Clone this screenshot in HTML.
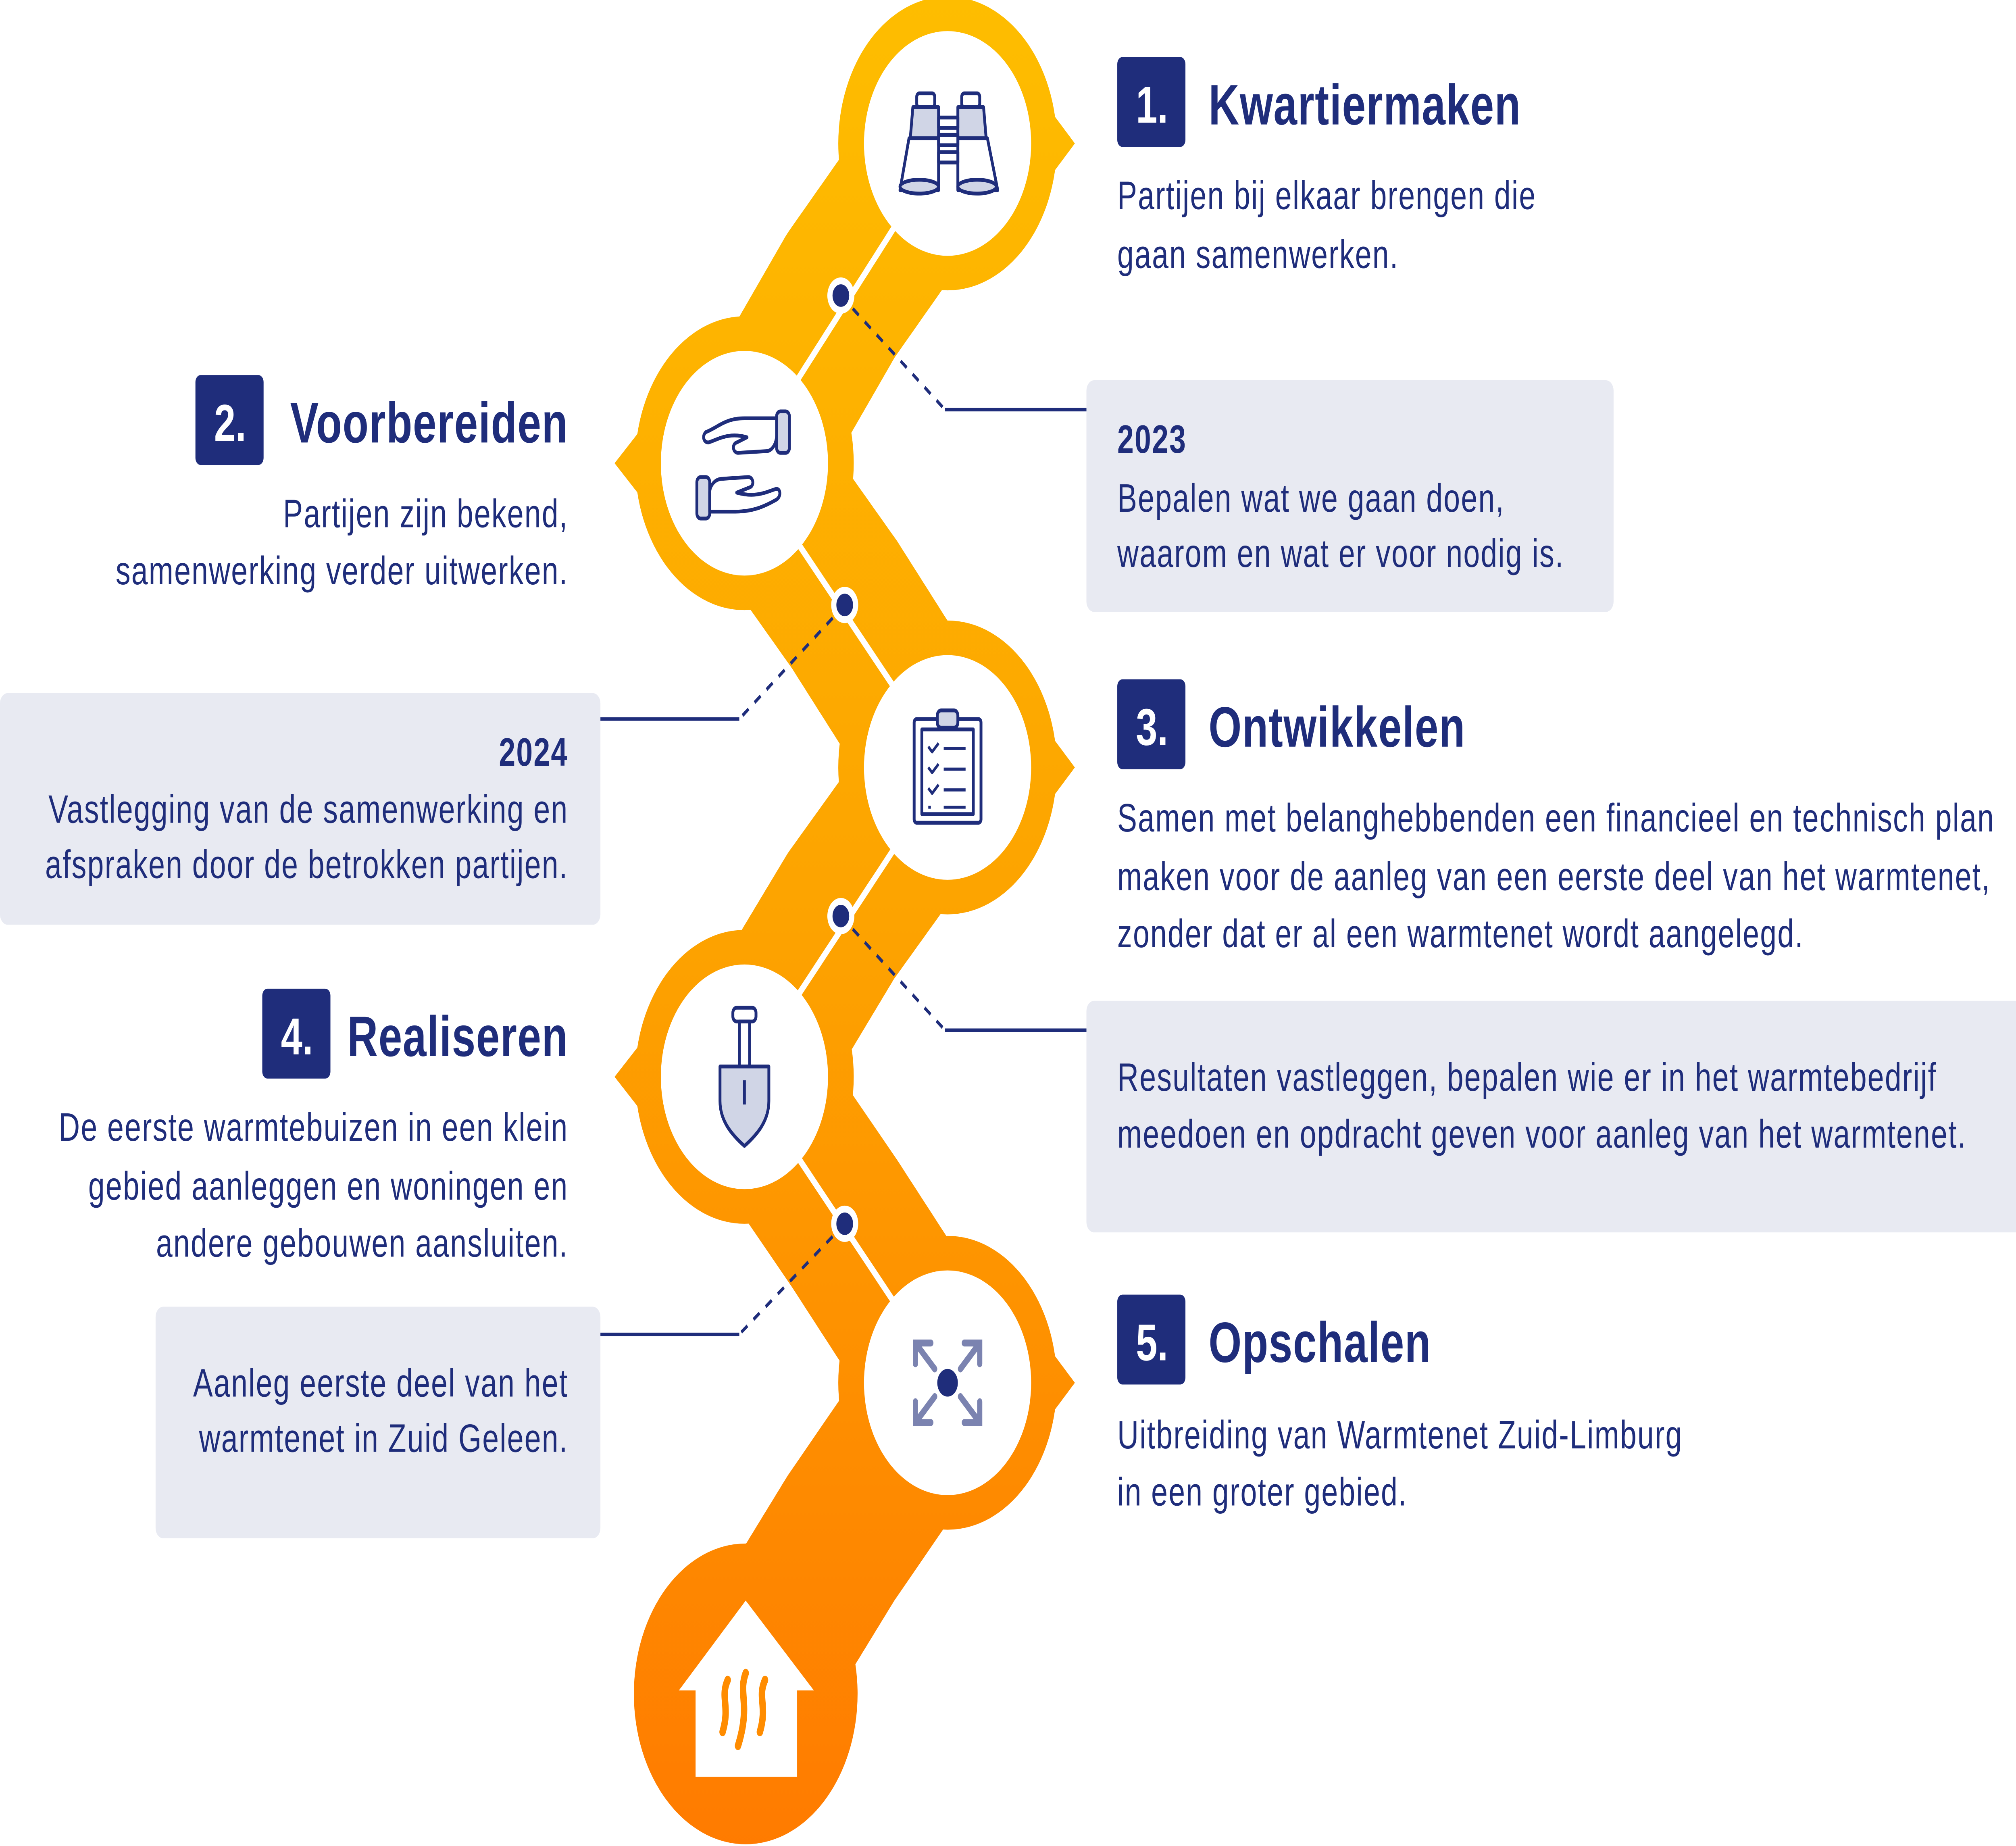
<!DOCTYPE html>
<html><head><meta charset="utf-8"><style>html,body{margin:0;padding:0;background:#fff;width:100%;height:100%;overflow:hidden}svg{display:block;width:100vw;height:100vh}</style></head>
<body>
<svg xmlns="http://www.w3.org/2000/svg" viewBox="0 0 1568 1068" preserveAspectRatio="none" font-family="'Liberation Sans', sans-serif">
<defs>
<linearGradient id="g" gradientUnits="userSpaceOnUse" x1="0" y1="0" x2="0" y2="1068">
<stop offset="0" stop-color="#FEBD00"/><stop offset="0.5" stop-color="#FDA300"/><stop offset="1" stop-color="#FF7B00"/></linearGradient>
</defs>
<rect width="1568" height="1068" fill="#fff"/>
<g fill="#E8EAF2">
<rect x="845" y="220" width="410" height="134" rx="6"/>
<rect x="0" y="401" width="467" height="134" rx="6"/>
<rect x="845" y="579" width="730" height="134" rx="6"/>
<rect x="121" y="756" width="346" height="134" rx="6"/>
</g>
<g fill="url(#g)" stroke="url(#g)">
<polyline points="737,83 654,171 579,268 657,350 737,444 654,530 579,623 657,708 737,800 654,890 580,980" fill="none" stroke-width="110" stroke-linejoin="round"/>
<circle cx="737" cy="83" r="85" stroke="none"/>
<circle cx="579" cy="268" r="85" stroke="none"/>
<circle cx="737" cy="444" r="85" stroke="none"/>
<circle cx="579" cy="623" r="85" stroke="none"/>
<circle cx="737" cy="800" r="85" stroke="none"/>
<circle cx="580" cy="980" r="87" stroke="none"/>
<polygon points="815,62 836,83 815,104" stroke="none"/>
<polygon points="815,423 836,444 815,465" stroke="none"/>
<polygon points="815,779 836,800 815,821" stroke="none"/>
<polygon points="500,247 478,268 500,289" stroke="none"/>
<polygon points="500,602 478,623 500,644" stroke="none"/>
</g>
<g stroke="#fff" stroke-width="4">
<line x1="737" y1="83" x2="579" y2="268"/>
<line x1="579" y1="268" x2="737" y2="444"/>
<line x1="737" y1="444" x2="579" y2="623"/>
<line x1="579" y1="623" x2="737" y2="800"/>
</g>
<g fill="#fff">
<circle cx="737" cy="83" r="65"/><circle cx="579" cy="268" r="65"/><circle cx="737" cy="444" r="65"/><circle cx="579" cy="623" r="65"/><circle cx="737" cy="800" r="65"/>
</g>
<g stroke="#1F2D7B" stroke-width="2" fill="none">
<path d="M654,171 L735,237" stroke-dasharray="6,6"/><path d="M735,237 H845"/>
<path d="M657,350 L575,416" stroke-dasharray="6,6"/><path d="M575,416 H467"/>
<path d="M654,530 L735,596" stroke-dasharray="6,6"/><path d="M735,596 H845"/>
<path d="M657,708 L575,772" stroke-dasharray="6,6"/><path d="M575,772 H467"/>
</g>
<g fill="#1F2D7B" stroke="#fff" stroke-width="4">
<circle cx="654" cy="171" r="8.5"/><circle cx="657" cy="350" r="8.5"/><circle cx="654" cy="530" r="8.5"/><circle cx="657" cy="708" r="8.5"/>
</g>
<g stroke="#1F2D7B" stroke-width="2.2" fill="#fff" stroke-linejoin="round">
<rect x="713" y="54" width="14" height="8" rx="2"/><rect x="748" y="54" width="14" height="8" rx="2"/>
<path d="M710,62 h20 v18 h-22 z" fill="#D0D5E6"/><path d="M745,62 h20 l2,18 h-22 z" fill="#D0D5E6"/>
<path d="M707,80 h23 v30 h-30 z"/><path d="M745,80 h23 l8,30 h-31 z"/>
<rect x="730" y="68" width="15" height="6"/><rect x="730" y="78" width="15" height="6"/><rect x="730" y="88" width="15" height="6"/>
<ellipse cx="715" cy="108" rx="15" ry="4" fill="#D0D5E6"/><ellipse cx="760" cy="108" rx="15" ry="4" fill="#D0D5E6"/>
<rect x="604" y="238" width="10" height="24" rx="3" fill="#D0D5E6"/>
<path d="M604,242 h-25 c-15,0 -20,5 -30,8 c-3,2 -2,6 2,6 c8,-2 16,-6 30,-3 l-8,3 c-4,1 -3,6 1,6 l22,-1 c5,0 8,-5 8,-9 z"/>
<rect x="542" y="276" width="10" height="24" rx="3" fill="#D0D5E6"/>
<path d="M552,296 h20 c15,0 25,-4 32,-7 c4,-2 3,-7 -1,-6 c-8,2 -16,5 -30,2 l10,-3 c4,-1 3,-6 -1,-6 l-20,1 c-6,0 -10,4 -10,8 z"/>
<rect x="711" y="416" width="52" height="60" rx="2"/>
<rect x="717" y="422" width="40" height="49" fill="#fff"/>
<rect x="729" y="411" width="16" height="10" rx="3" fill="#D0D5E6"/>
<g fill="none" stroke-width="1.8"><path d="M722,432 l3,3 5,-5 M722,444 l3,3 5,-5 M722,456 l3,3 5,-5 M722,467 h2"/><path d="M734,433 h17 M734,445 h17 M734,457 h17 M734,467 h17"/></g>
<rect x="570" y="583" width="18" height="8" rx="3" fill="#fff"/>
<rect x="575" y="591" width="8" height="26" fill="#fff"/>
<path d="M560,617 h38 v20 c0,12 -10,20 -19,26 c-9,-6 -19,-14 -19,-26 z" fill="#D0D5E6"/>
<path d="M579,625 v14" fill="none"/>
</g>
<g stroke="#7B83B0" stroke-width="4" fill="none" stroke-linecap="round">
<path d="M713,778 l14,14 M712,789 v-12 h12"/><path d="M761,778 l-14,14 M762,789 v-12 h-12"/>
<path d="M713,822 l14,-14 M712,811 v12 h12"/><path d="M761,822 l-14,-14 M762,811 v12 h-12"/>
</g>
<circle cx="737" cy="800" r="8" fill="#1F2D7B"/>
<path d="M580,926 L633,978 L620,978 L620,1028 L541,1028 L541,978 L528,978 Z" fill="#fff"/>
<g fill="none" stroke="#FF8C00" stroke-width="5" stroke-linecap="round">
<path d="M566,972 c-6,10 2,15 -4,30"/><path d="M580,968 c-6,12 4,18 -6,42"/><path d="M595,972 c-6,10 2,15 -4,30"/>
</g>
<g fill="#1F2D7B">
<rect x="869" y="33" width="53" height="52" rx="4"/>
<rect x="152" y="217" width="53" height="52" rx="4"/>
<rect x="869" y="393" width="53" height="52" rx="4"/>
<rect x="204" y="572" width="53" height="52" rx="4"/>
<rect x="869" y="749" width="53" height="52" rx="4"/>
</g>
<g fill="#fff" font-weight="bold" font-size="30" text-anchor="middle">
<text x="896" y="71">1.</text><text x="179" y="255">2.</text><text x="896" y="431">3.</text><text x="231" y="610">4.</text><text x="896" y="787">5.</text>
</g>
<g fill="#1F2D7B" font-weight="bold" font-size="33" letter-spacing="0.5">
<text x="940" y="72">Kwartiermaken</text>
<text x="442" y="256" text-anchor="end">Voorbereiden</text>
<text x="940" y="432">Ontwikkelen</text>
<text x="442" y="611" text-anchor="end">Realiseren</text>
<text x="940" y="788">Opschalen</text>
</g>
<g fill="#1F2D7B" font-size="23" letter-spacing="0.7">
<text x="869" y="121">Partijen bij elkaar brengen die</text>
<text x="869" y="155">gaan samenwerken.</text>
<text x="442" y="305" text-anchor="end">Partijen zijn bekend,</text>
<text x="442" y="338" text-anchor="end">samenwerking verder uitwerken.</text>
<text x="869" y="481">Samen met belanghebbenden een financieel en technisch plan</text>
<text x="869" y="515">maken voor de aanleg van een eerste deel van het warmtenet,</text>
<text x="869" y="548">zonder dat er al een warmtenet wordt aangelegd.</text>
<text x="442" y="660" text-anchor="end">De eerste warmtebuizen in een klein</text>
<text x="442" y="694" text-anchor="end">gebied aanleggen en woningen en</text>
<text x="442" y="727" text-anchor="end">andere gebouwen aansluiten.</text>
<text x="869" y="838">Uitbreiding van Warmtenet Zuid-Limburg</text>
<text x="869" y="871">in een groter gebied.</text>
<text x="869" y="296">Bepalen wat we gaan doen,</text>
<text x="869" y="328">waarom en wat er voor nodig is.</text>
<text x="442" y="476" text-anchor="end">Vastlegging van de samenwerking en</text>
<text x="442" y="508" text-anchor="end">afspraken door de betrokken partijen.</text>
<text x="869" y="631">Resultaten vastleggen, bepalen wie er in het warmtebedrijf</text>
<text x="869" y="664">meedoen en opdracht geven voor aanleg van het warmtenet.</text>
<text x="442" y="808" text-anchor="end">Aanleg eerste deel van het</text>
<text x="442" y="840" text-anchor="end">warmtenet in Zuid Geleen.</text>
</g>
<g fill="#1F2D7B" font-size="23" font-weight="bold" letter-spacing="0.7">
<text x="869" y="262">2023</text>
<text x="442" y="443" text-anchor="end">2024</text>
</g>
</svg>
</body></html>
